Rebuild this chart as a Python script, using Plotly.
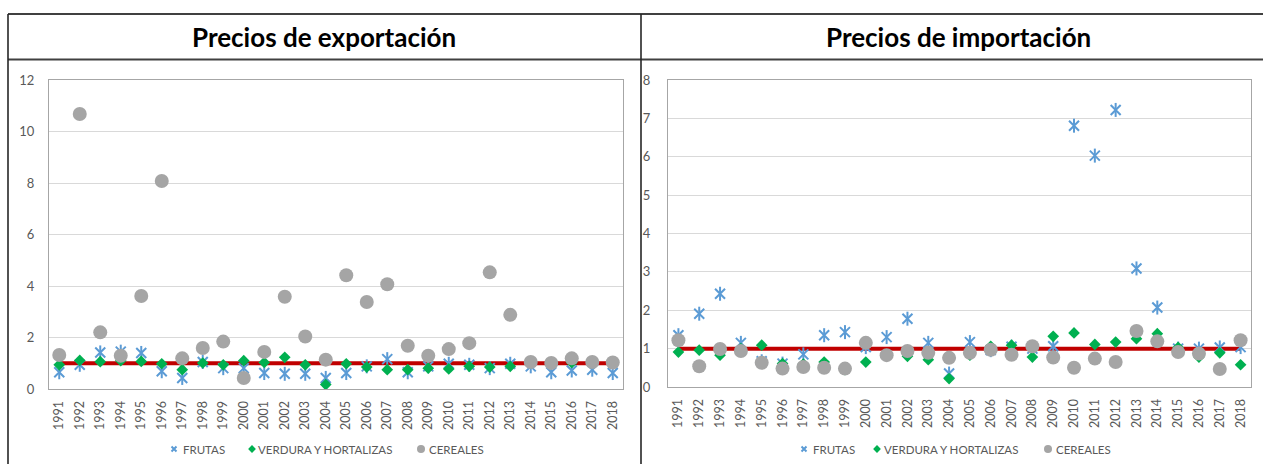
import plotly.graph_objects as go

# Years on the category axis
years = [str(y) for y in range(1991, 2019)]

# Export price ratios
exp_frutas = [0.65, 0.94, 1.42, 1.45, 1.40, 0.69, 0.43, 1.05, 0.81, 0.81,
              0.62, 0.59, 0.59, 0.43, 0.62, 0.88, 1.16, 0.65, 0.88, 0.98,
              0.94, 0.81, 0.98, 0.88, 0.65, 0.72, 0.75, 0.62]
exp_verdura = [0.94, 1.11, 1.06, 1.10, 1.07, 0.98, 0.75, 1.01, 0.94, 1.10,
               1.03, 1.23, 0.94, 0.17, 0.98, 0.85, 0.75, 0.75, 0.81, 0.78,
               0.88, 0.85, 0.88, 1.00, 1.00, 1.02, 1.00, 1.00]
exp_cereales = [1.32, 10.68, 2.20, 1.29, 3.61, 8.08, 1.19, 1.59, 1.84, 0.43,
                1.44, 3.58, 2.04, 1.14, 4.42, 3.38, 4.07, 1.68, 1.29, 1.55,
                1.78, 4.53, 2.88, 1.05, 1.01, 1.19, 1.05, 1.03]

# Import price ratios
imp_frutas = [1.35, 1.91, 2.43, 1.15, 0.67, 0.61, 0.85, 1.35, 1.43, 1.04,
              1.30, 1.78, 1.15, 0.35, 1.17, 0.96, 1.05, 1.00, 1.06, 6.81,
              6.03, 7.22, 3.09, 2.07, 1.00, 1.00, 1.03, 1.04]
imp_verdura = [0.91, 0.96, 0.83, 1.00, 1.09, 0.61, 0.60, 0.65, 0.45, 0.65,
               0.83, 0.80, 0.71, 0.22, 0.83, 1.06, 1.09, 0.78, 1.32, 1.41,
               1.11, 1.17, 1.26, 1.39, 1.03, 0.78, 0.89, 0.58]
imp_cereales = [1.22, 0.54, 0.99, 0.94, 0.63, 0.48, 0.52, 0.50, 0.48, 1.15,
                0.83, 0.94, 0.89, 0.76, 0.89, 0.97, 0.84, 1.06, 0.77, 0.50,
                0.74, 0.65, 1.46, 1.19, 0.91, 0.87, 0.47, 1.22]

# Reference level (ratio = 1)
reference = [1.0] * len(years)

series_names = ["FRUTAS", "VERDURA Y HORTALIZAS", "CEREALES"]
panel_titles = ["Precios de exportación", "Precios de importación"]

BLUE = "#5B9BD5"
GREEN = "#00B050"
GREY = "#A5A5A5"
RED = "#C00000"
TXT = "#595959"
FONT = "Lato"

W, H = 1263, 464


def px_x(v):
    return v / W


def px_y(v):
    return 1 - v / H


fig = go.Figure()


def add_panel(xa, ya, frutas, verdura, cereales):
    fig.add_trace(go.Scatter(
        x=years, y=reference, mode="lines", xaxis=xa, yaxis=ya,
        line=dict(color=RED, width=4), showlegend=False, hoverinfo="skip"))
    # asterisk = x plus vertical stroke
    fig.add_trace(go.Scatter(
        x=years, y=frutas, mode="markers", xaxis=xa, yaxis=ya,
        name=series_names[0], showlegend=False,
        marker=dict(symbol="x-thin-open", size=10,
                    line=dict(color=BLUE, width=2), color=BLUE)))
    fig.add_trace(go.Scatter(
        x=years, y=frutas, mode="markers", xaxis=xa, yaxis=ya,
        showlegend=False, hoverinfo="skip",
        marker=dict(symbol="line-ns-open", size=10,
                    line=dict(color=BLUE, width=2), color=BLUE)))
    fig.add_trace(go.Scatter(
        x=years, y=verdura, mode="markers", xaxis=xa, yaxis=ya,
        name=series_names[1], showlegend=False,
        marker=dict(symbol="diamond", size=9, color=GREEN)))
    fig.add_trace(go.Scatter(
        x=years, y=cereales, mode="markers", xaxis=xa, yaxis=ya,
        name=series_names[2], showlegend=False,
        marker=dict(symbol="circle", size=14, color=GREY)))


add_panel("x", "y", exp_frutas, exp_verdura, exp_cereales)
add_panel("x2", "y2", imp_frutas, imp_verdura, imp_cereales)

# Legend row under each panel, drawn on a pixel-based overlay axis
legend_y = 449
legend_rows = [
    # (symbol x, text x) for FRUTAS, VERDURA, CEREALES
    [(174, 181), (252, 256), (421, 427)],
    [(804, 811), (877, 882), (1048, 1054)],
]
legend_markers = [
    dict(symbol="x-thin-open", size=5, color=BLUE,
         line=dict(color=BLUE, width=2)),
    dict(symbol="diamond", size=6, color=GREEN),
    dict(symbol="circle", size=8, color=GREY),
]
for row in legend_rows:
    for (sx, tx), mk, name in zip(row, legend_markers, series_names):
        fig.add_trace(go.Scatter(
            x=[sx], y=[legend_y], mode="markers", xaxis="x3", yaxis="y3",
            marker=mk, showlegend=False, hoverinfo="skip"))
        fig.add_annotation(text=name, xref="x3", yref="y3", x=tx,
                           y=legend_y, xanchor="left", yanchor="middle",
                           showarrow=False,
                           font=dict(family=FONT, size=11.5, color=TXT))

xaxis_common = dict(
    type="category", range=[-0.5, 27.5], tickangle=-90,
    tickfont=dict(family=FONT, size=12.5, color=TXT),
    showline=True, mirror=True, linecolor="#A6A6A6", linewidth=1,
    showgrid=False, ticks="", ticklabelstandoff=6, fixedrange=True)
yaxis_common = dict(
    tickfont=dict(family=FONT, size=13, color=TXT),
    showline=True, mirror=True, linecolor="#A6A6A6", linewidth=1,
    showgrid=True, gridcolor="#D9D9D9", gridwidth=1, zeroline=False,
    ticks="", fixedrange=True)

fig.update_layout(
    width=W, height=H,
    margin=dict(l=0, r=0, t=0, b=0, pad=0, autoexpand=False),
    paper_bgcolor="white", plot_bgcolor="rgba(0,0,0,0)",
    xaxis=dict(domain=[px_x(49), px_x(623)], anchor="y", **xaxis_common),
    yaxis=dict(domain=[px_y(389), px_y(80)], anchor="x", range=[0, 12],
               dtick=2, ticklabelstandoff=11, **yaxis_common),
    xaxis2=dict(domain=[px_x(668), px_x(1251)], anchor="y2", **xaxis_common),
    yaxis2=dict(domain=[px_y(387), px_y(80)], anchor="x2", range=[0, 8],
                dtick=1, ticklabelstandoff=14, **yaxis_common),
    xaxis3=dict(domain=[0, 1], range=[0, W], visible=False, anchor="y3",
                fixedrange=True),
    yaxis3=dict(domain=[0, 1], range=[H, 0], visible=False, anchor="x3",
                fixedrange=True),
    showlegend=False,
)

# Table-style frame around the two panels
frame = [
    (8, 14, W, 14, 2, "#404040"),
    (8, 59.5, W, 59.5, 2, "#404040"),
    (8, 14, 8, H, 1.6, "#262626"),
    (641, 14, 641, H, 1.6, "#262626"),
]
for x0, y0, x1, y1, w, c in frame:
    fig.add_shape(type="line", xref="paper", yref="paper",
                  x0=px_x(x0), y0=px_y(y0), x1=px_x(x1), y1=px_y(y1),
                  line=dict(color=c, width=w))

for title, cx in zip(panel_titles, [324, 958]):
    fig.add_annotation(text=f"<b>{title}</b>", xref="paper", yref="paper",
                       x=px_x(cx), y=px_y(37), xanchor="center",
                       yanchor="middle", showarrow=False,
                       font=dict(family=FONT, size=26, color="black"))

fig.write_html("out.html")
